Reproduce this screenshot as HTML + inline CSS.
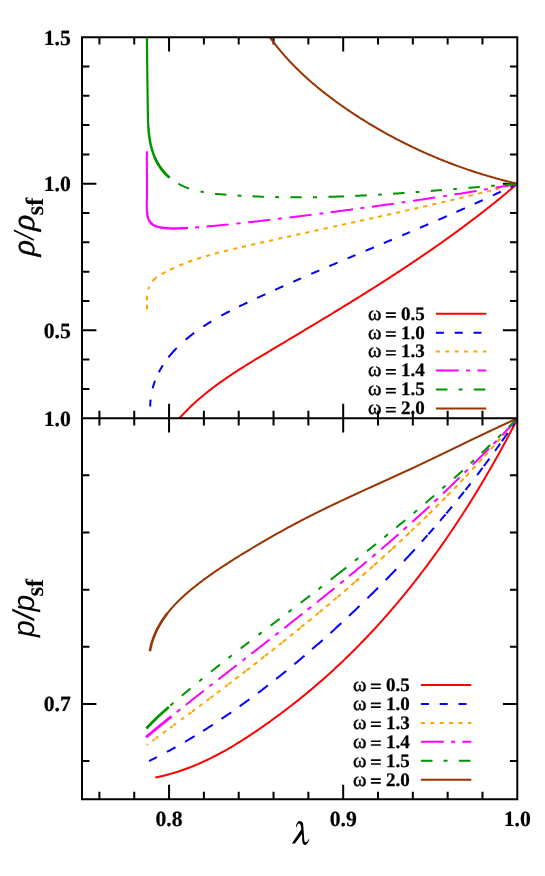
<!DOCTYPE html>
<html><head><meta charset="utf-8"><title>chart</title>
<style>
html,body{margin:0;padding:0;background:#fff;}
svg{display:block;will-change:transform;}
text{font-family:"Liberation Serif",serif;fill:#000;text-rendering:geometricPrecision;}
.tl{font-weight:bold;font-size:21.7px;stroke:#000;stroke-width:0.2px;}
.lb{font-weight:bold;font-size:19px;stroke:#000;stroke-width:0.25px;}
.lo{font-size:20.5px;stroke:#000;stroke-width:0.45px;}
.c path{fill:none;}
</style></head><body>
<svg width="545" height="876" viewBox="0 0 545 876">
<rect width="545" height="876" fill="#fff"/>
<defs>
<clipPath id="ct"><rect x="82" y="37.2" width="436.3" height="381"/></clipPath>
<clipPath id="cb"><rect x="82" y="418.2" width="436.3" height="381"/></clipPath>
</defs>
<path d="M99.41 37.2 v7.4 M99.41 410.8 v14.8 M99.41 799.2 v-7.4 M134.24 37.2 v7.4 M134.24 410.8 v14.8 M134.24 799.2 v-7.4 M169.06 37.2 v14.4 M169.06 403.8 v28.8 M169.06 799.2 v-14.4 M203.88 37.2 v7.4 M203.88 410.8 v14.8 M203.88 799.2 v-7.4 M238.71 37.2 v7.4 M238.71 410.8 v14.8 M238.71 799.2 v-7.4 M273.53 37.2 v7.4 M273.53 410.8 v14.8 M273.53 799.2 v-7.4 M308.36 37.2 v7.4 M308.36 410.8 v14.8 M308.36 799.2 v-7.4 M343.18 37.2 v14.4 M343.18 403.8 v28.8 M343.18 799.2 v-14.4 M378 37.2 v7.4 M378 410.8 v14.8 M378 799.2 v-7.4 M412.83 37.2 v7.4 M412.83 410.8 v14.8 M412.83 799.2 v-7.4 M447.65 37.2 v7.4 M447.65 410.8 v14.8 M447.65 799.2 v-7.4 M482.48 37.2 v7.4 M482.48 410.8 v14.8 M482.48 799.2 v-7.4 M82 388.89 h7.4 M517.3 388.89 h-7.4 M82 359.58 h7.4 M517.3 359.58 h-7.4 M82 330.28 h14.4 M517.3 330.28 h-14.4 M82 300.97 h7.4 M517.3 300.97 h-7.4 M82 271.66 h7.4 M517.3 271.66 h-7.4 M82 242.35 h7.4 M517.3 242.35 h-7.4 M82 213.05 h7.4 M517.3 213.05 h-7.4 M82 183.74 h14.4 M517.3 183.74 h-14.4 M82 154.43 h7.4 M517.3 154.43 h-7.4 M82 125.12 h7.4 M517.3 125.12 h-7.4 M82 95.82 h7.4 M517.3 95.82 h-7.4 M82 66.51 h7.4 M517.3 66.51 h-7.4 M82 475.35 h7.4 M517.3 475.35 h-7.4 M82 532.5 h7.4 M517.3 532.5 h-7.4 M82 589.65 h7.4 M517.3 589.65 h-7.4 M82 646.8 h7.4 M517.3 646.8 h-7.4 M82 703.95 h14.4 M517.3 703.95 h-14.4 M82 761.1 h7.4 M517.3 761.1 h-7.4" stroke="#000" stroke-width="2" fill="none"/>
<g class="c" clip-path="url(#ct)">
<path d="M172.5 426.5 L173.44 425.31 L174.4 424.14 L175.36 422.97 L176.33 421.81 L177.31 420.67 L178.29 419.53 L179.28 418.4 L180.28 417.28 L181.29 416.17 L182.31 415.07 L183.33 413.98 L184.36 412.9 L185.4 411.83 L186.44 410.76 L187.49 409.7 L188.55 408.66 L189.62 407.62 L190.69 406.58 L191.76 405.56 L192.85 404.54 L193.94 403.53 L195.04 402.53 L196.14 401.54 L197.25 400.55 L198.36 399.57 L199.48 398.6 L200.61 397.64 L201.74 396.68 L202.88 395.73 L204.02 394.78 L205.17 393.84 L206.32 392.91 L207.48 391.98 L208.64 391.07 L209.81 390.15 L210.99 389.24 L212.16 388.34 L213.35 387.45 L214.53 386.56 L215.72 385.67 L216.92 384.79 L218.12 383.91 L219.32 383.04 L220.53 382.18 L221.74 381.32 L222.96 380.46 L224.18 379.61 L225.4 378.77 L226.63 377.92 L227.86 377.09 L229.09 376.25 L230.33 375.42 L231.57 374.6 L232.81 373.77 L234.06 372.96 L235.31 372.14 L236.56 371.33 L237.81 370.52 L239.07 369.71 L240.33 368.91 L241.59 368.11 L242.85 367.31 L244.12 366.52 L245.38 365.73 L246.65 364.94 L247.92 364.15 L249.2 363.37 L250.47 362.58 L251.75 361.8 L253.03 361.02 L254.3 360.24 L255.58 359.47 L256.87 358.69 L258.15 357.92 L259.43 357.14 L260.71 356.37 L262 355.6 L263.28 354.83 L264.57 354.06 L265.86 353.29 L267.14 352.53 L268.43 351.76 L269.72 350.99 L271 350.22 L272.29 349.46 L273.58 348.69 L274.86 347.92 L276.15 347.15 L277.44 346.38 L278.72 345.62 L280.01 344.85 L281.3 344.08 L282.58 343.31 L283.87 342.55 L285.16 341.78 L286.44 341.01 L287.73 340.24 L289.02 339.48 L290.3 338.71 L291.59 337.94 L292.88 337.17 L294.16 336.4 L295.45 335.63 L296.73 334.87 L298.02 334.1 L299.3 333.33 L300.59 332.56 L301.87 331.79 L303.16 331.02 L304.44 330.25 L305.73 329.48 L307.01 328.71 L308.3 327.94 L309.58 327.17 L310.86 326.4 L312.15 325.62 L313.43 324.85 L314.71 324.08 L316 323.31 L317.28 322.54 L318.56 321.76 L319.84 320.99 L321.13 320.22 L322.41 319.44 L323.69 318.67 L324.97 317.89 L326.25 317.12 L327.53 316.34 L328.81 315.56 L330.09 314.79 L331.37 314.01 L332.65 313.23 L333.93 312.45 L335.2 311.67 L336.48 310.9 L337.76 310.12 L339.04 309.34 L340.31 308.55 L341.59 307.77 L342.87 306.99 L344.14 306.21 L345.42 305.43 L346.69 304.64 L347.96 303.86 L349.24 303.07 L350.51 302.29 L351.78 301.5 L353.06 300.71 L354.33 299.93 L355.6 299.14 L356.87 298.35 L358.14 297.56 L359.41 296.77 L360.68 295.98 L361.95 295.19 L363.22 294.39 L364.49 293.6 L365.75 292.81 L367.02 292.01 L368.29 291.22 L369.55 290.42 L370.82 289.62 L372.08 288.83 L373.34 288.03 L374.61 287.23 L375.87 286.43 L377.13 285.62 L378.39 284.82 L379.65 284.02 L380.91 283.21 L382.17 282.41 L383.43 281.6 L384.69 280.8 L385.95 279.99 L387.2 279.18 L388.46 278.37 L389.72 277.56 L390.97 276.75 L392.22 275.94 L393.48 275.12 L394.73 274.31 L395.98 273.49 L397.23 272.67 L398.48 271.86 L399.73 271.04 L400.98 270.22 L402.23 269.4 L403.48 268.57 L404.72 267.75 L405.97 266.93 L407.21 266.1 L408.46 265.27 L409.7 264.45 L410.94 263.62 L412.19 262.79 L413.43 261.95 L414.67 261.12 L415.9 260.29 L417.14 259.45 L418.38 258.62 L419.62 257.78 L420.85 256.94 L422.09 256.1 L423.32 255.26 L424.55 254.41 L425.79 253.57 L427.02 252.72 L428.25 251.88 L429.48 251.03 L430.7 250.18 L431.93 249.33 L433.16 248.48 L434.38 247.62 L435.61 246.77 L436.83 245.91 L438.05 245.05 L439.28 244.2 L440.5 243.33 L441.72 242.47 L442.93 241.61 L444.15 240.74 L445.37 239.88 L446.58 239.01 L447.8 238.14 L449.01 237.27 L450.22 236.4 L451.43 235.52 L452.64 234.65 L453.85 233.77 L455.06 232.89 L456.27 232.01 L457.47 231.13 L458.68 230.24 L459.88 229.36 L461.08 228.47 L462.28 227.58 L463.48 226.69 L464.68 225.8 L465.88 224.91 L467.08 224.01 L468.27 223.11 L469.46 222.21 L470.66 221.31 L471.85 220.41 L473.04 219.51 L474.23 218.6 L475.42 217.69 L476.6 216.79 L477.79 215.87 L478.97 214.96 L480.16 214.05 L481.34 213.13 L482.52 212.21 L483.7 211.29 L484.87 210.37 L486.05 209.45 L487.23 208.52 L488.4 207.59 L489.57 206.66 L490.74 205.73 L491.91 204.8 L493.08 203.86 L494.25 202.92 L495.42 201.99 L496.58 201.04 L497.74 200.1 L498.91 199.16 L500.07 198.21 L501.22 197.26 L502.38 196.31 L503.54 195.35 L504.69 194.4 L505.85 193.44 L507 192.48 L508.15 191.52 L509.3 190.56 L510.45 189.59 L511.59 188.62 L512.74 187.65 L513.88 186.68 L515.02 185.7 L516.16 184.73 L517.3 183.75" stroke="#ff0000" stroke-width="2"/>
<path d="M150.2 406.5 L150.24 404.87 L150.32 403.26 L150.42 401.66 L150.56 400.08 L150.6 399.7 M152.68 388.2 L152.74 387.95 L153.14 386.5 L153.57 385.07 L154.02 383.65 L154.5 382.24 L155 380.84 L155.02 380.8 M158.83 372.2 L159.21 371.46 L159.9 370.17 L160.61 368.9 L161.35 367.64 L162.1 366.39 L162.85 365.2 M168.5 357.28 L168.84 356.86 L169.76 355.72 L170.69 354.59 L171.65 353.48 L172.61 352.38 L173.6 351.29 L174.59 350.21 L175.6 349.14 L176.63 348.09 L176.8 347.92 M185.6 339.74 L186.38 339.08 L187.51 338.13 L188.66 337.19 L189.81 336.27 L190.97 335.35 L192.14 334.44 L193.32 333.54 L194.2 332.88 M203.4 326.42 L204.27 325.85 L205.52 325.04 L206.78 324.23 L208.05 323.44 L209.32 322.64 L210.59 321.86 L211.3 321.43 M221.4 315.62 L222.33 315.11 L223.66 314.39 L224.99 313.67 L226.33 312.96 L227.67 312.26 L229.01 311.56 L229.8 311.15 M239.1 306.49 L239.86 306.12 L241.23 305.45 L242.6 304.79 L243.97 304.13 L245.35 303.48 L246.72 302.83 L247.4 302.51 M257.1 298 L257.75 297.7 L259.13 297.06 L260.51 296.43 L261.89 295.8 L263.27 295.17 L264.65 294.54 L265.4 294.2 M275.1 289.81 L275.68 289.55 L277.06 288.93 L278.44 288.31 L279.82 287.7 L281.2 287.08 L282.58 286.47 L283.3 286.15 M293.3 281.73 L293.61 281.59 L294.99 280.99 L296.37 280.38 L297.75 279.78 L299.13 279.17 L300.5 278.57 L301.1 278.31 M311.3 273.89 L311.53 273.79 L312.91 273.19 L314.29 272.6 L315.66 272 L317.04 271.41 L318.42 270.82 L319.3 270.44 M329.3 266.16 L329.44 266.1 L330.82 265.52 L332.19 264.93 L333.57 264.34 L334.95 263.76 L336.32 263.17 L337.5 262.67 M347.6 258.4 L348.71 257.93 L350.09 257.34 L351.46 256.76 L352.84 256.18 L354.22 255.6 L355.5 255.06 M365.6 250.8 L366.6 250.38 L367.97 249.8 L369.35 249.22 L370.72 248.65 L372.1 248.07 L373.47 247.49 L373.9 247.31 M383.8 243.14 L384.47 242.86 L385.84 242.28 L387.21 241.7 L388.59 241.12 L389.96 240.54 L391.34 239.96 L391.8 239.76 M402.2 235.36 L402.32 235.31 L403.7 234.73 L405.07 234.14 L406.44 233.56 L407.81 232.98 L409.19 232.39 L410 232.05 M420.1 227.74 L420.17 227.71 L421.54 227.12 L422.91 226.53 L424.28 225.94 L425.65 225.35 L427.02 224.76 L428.2 224.26 M438.3 219.89 L439.36 219.42 L440.73 218.83 L442.1 218.23 L443.47 217.63 L444.84 217.03 L446.21 216.43 L446.9 216.13 M456.4 211.94 L457.17 211.6 L458.54 210.99 L459.91 210.39 L461.28 209.78 L462.64 209.17 L464.01 208.55 L464.9 208.16 M474.7 203.74 L474.96 203.62 L476.33 203 L477.69 202.38 L479.06 201.75 L480.43 201.13 L481.8 200.5 L482.7 200.09 M492.9 195.37 L494.09 194.81 L495.46 194.17 L496.83 193.53 L498.19 192.89 L499.56 192.25 L500.8 191.66 M510.5 187.04 L511.84 186.39 L513.21 185.73 L514.57 185.07 L515.94 184.41 L517.3 183.75" stroke="#0000ff" stroke-width="2"/>
<path d="M147.1 309.4 L147.07 308.11 L147.03 306.67 L147 305.19 L146.99 304.7 M146.99 300.3 L147.02 299 L147.1 297.42 L147.22 295.84 L147.22 295.8 M148.28 289.5 L148.64 288.27 L149.13 286.87 L149.2 286.7 M152.4 281.25 L152.83 280.72 L153.81 279.68 L154.86 278.7 L155.98 277.78 L157 277.02 M161.5 274.17 L162.22 273.77 L163.55 273.04 L164.88 272.34 L165.6 271.96 M170 269.75 L170.24 269.63 L171.6 268.99 L172.95 268.35 L174.1 267.83 M179.3 265.55 L179.8 265.34 L181.18 264.77 L182.56 264.21 L183.4 263.88 M188.2 262.05 L189.54 261.56 L190.94 261.05 L192.3 260.57 M197 258.98 L198.01 258.65 L199.43 258.19 L200.86 257.74 L201.1 257.67 M206 256.18 L206.58 256.01 L208.02 255.59 L209.45 255.18 L210.1 255 M214.8 253.7 L215.23 253.59 L216.67 253.2 L218.12 252.82 L218.9 252.62 M223.9 251.35 L223.93 251.34 L225.39 250.98 L226.85 250.62 L228 250.34 M233.3 249.07 L234.14 248.87 L235.6 248.53 L237.07 248.19 L237.4 248.11 M241.9 247.07 L242.92 246.83 L244.38 246.5 L245.84 246.16 L246 246.13 M251.1 244.96 L251.69 244.82 L253.16 244.49 L254.62 244.16 L255.2 244.03 M260.2 242.89 L260.47 242.83 L261.94 242.5 L263.4 242.17 L264.3 241.97 M269 240.91 L269.25 240.85 L270.72 240.52 L272.18 240.2 L273.1 239.99 M278.2 238.85 L279.49 238.56 L280.96 238.24 L282.3 237.94 M287 236.89 L288.27 236.61 L289.74 236.28 L291.1 235.98 M296.2 234.85 L297.05 234.67 L298.51 234.34 L299.98 234.02 L300.3 233.95 M305.2 232.87 L305.83 232.73 L307.29 232.41 L308.75 232.09 L309.3 231.97 M314.4 230.85 L314.61 230.8 L316.07 230.48 L317.53 230.16 L318.5 229.95 M323.6 228.83 L324.84 228.56 L326.31 228.23 L327.7 227.93 M333.2 226.72 L333.62 226.63 L335.08 226.31 L336.54 225.99 L337.3 225.83 M342 224.8 L342.39 224.71 L343.86 224.39 L345.32 224.07 L346.1 223.9 M351.2 222.78 L352.63 222.47 L354.09 222.15 L355.3 221.88 M360 220.85 L361.4 220.54 L362.86 220.22 L364.1 219.94 M369.2 218.82 L370.16 218.61 L371.63 218.28 L373.09 217.96 L373.3 217.92 M377.8 216.92 L378.93 216.67 L380.39 216.35 L381.85 216.02 L381.9 216.01 M387 214.88 L387.69 214.72 L389.15 214.4 L390.61 214.07 L391.1 213.96 M396.1 212.85 L396.46 212.77 L397.92 212.44 L399.38 212.11 L400.2 211.93 M405.3 210.78 L406.67 210.47 L408.13 210.14 L409.4 209.85 M414.2 208.76 L415.43 208.48 L416.89 208.15 L418.3 207.83 M423.1 206.73 L424.18 206.48 L425.64 206.15 L427.1 205.81 L427.2 205.79 M432.2 204.64 L432.93 204.47 L434.39 204.13 L435.85 203.79 L436.3 203.69 M441.3 202.52 L441.68 202.43 L443.13 202.09 L444.59 201.75 L445.4 201.56 M450.4 200.38 L450.42 200.38 L451.87 200.03 L453.33 199.69 L454.5 199.41 M459.4 198.24 L460.61 197.95 L462.07 197.6 L463.5 197.26 M468.7 196 L469.34 195.84 L470.8 195.49 L472.26 195.13 L472.8 195 M478 193.73 L478.07 193.71 L479.53 193.35 L480.98 192.99 L482.1 192.72 M486.8 191.55 L488.25 191.19 L489.71 190.82 L490.9 190.53 M495.8 189.29 L496.97 188.99 L498.43 188.63 L499.88 188.26 L499.9 188.25 M505 186.95 L505.69 186.77 L507.14 186.39 L508.59 186.02 L509.1 185.89 M513.2 184.82 L514.4 184.51 L515.85 184.13 L517.3 183.75" stroke="#ffa500" stroke-width="2"/>
<path d="M146.9 151.3 L146.87 152.8 L146.85 154.3 L146.84 155.8 L146.83 157.3 L146.82 158.8 L146.82 160.3 L146.82 161.8 L146.82 163.3 L146.83 164.79 L146.84 166.29 L146.85 167.79 L146.86 169.28 L146.88 170.78 L146.89 172.27 L146.91 173.77 L146.92 175.26 L146.94 176.76 L146.96 178.25 L146.97 179.75 L146.98 181.24 L146.99 182.74 L147 184.23 L147.01 185.73 L147.01 187.22 L147.01 188.72 L147 190.22 L146.99 191.71 L146.98 193.21 L146.96 194.71 L146.94 196.21 L146.91 197.71 L146.87 199.21 L146.84 200.71 L146.81 202.21 L146.78 203.71 L146.77 205.22 L146.79 206.72 L146.83 208.23 L146.9 209.74 L147 211.24 L147.16 212.75 L147.19 213" stroke="#ff00ff" stroke-width="2.1"/>
<path d="M147.13 212.5 L147.16 212.75 L147.35 214.26 L147.61 215.77 L147.95 217.25 L148.39 218.69 L148.95 220.05 L149.65 221.32 L150.5 222.48 L151.47 223.53 L152.57 224.46 L153.79 225.25 L155.1 225.89 L156.5 226.41 L157.15 226.6" stroke="#ff00ff" stroke-width="2.4"/>
<path d="M157.1 226.59 L157.95 226.83 L159.44 227.17 L160.95 227.45 L162.45 227.7 L163.95 227.9 L165.46 228.07 L166.96 228.2 L168.46 228.3 L169.96 228.38 L171.46 228.43 L172.95 228.45 L174.45 228.46 L175.95 228.44 L177.44 228.41 L178.94 228.36 L180.44 228.3 L181.93 228.23 L183.43 228.16 L184.92 228.08 L186.42 227.99 L187.9 227.91" stroke="#ff00ff" stroke-width="2.4"/>
<path d="M195.1 227.43 L195.38 227.41 L196.87 227.31 L198.36 227.2 L199.2 227.13 M206.7 226.53 L207.32 226.47 L208.81 226.34 L210.3 226.21 L211.79 226.08 L213.28 225.94 L214.77 225.8 L216.26 225.66 L217.75 225.52 L219.24 225.38 L220.73 225.23 L222.22 225.08 L223.71 224.93 L225.2 224.78 L226.69 224.63 L228.18 224.48 L228.6 224.43 M236.4 223.61 L237.12 223.53 L238.61 223.37 L240.1 223.21 L240.6 223.15 M248.1 222.33 L249.03 222.23 L250.52 222.06 L252 221.89 L253.49 221.72 L254.98 221.56 L256.47 221.39 L257.96 221.22 L259.44 221.05 L260.93 220.88 L262.42 220.71 L263.91 220.53 L265.4 220.36 L266.88 220.19 L268.37 220.02 L269.86 219.84 L270.2 219.8 M277.8 218.9 L278.78 218.78 L280.27 218.6 L281.75 218.43 L281.9 218.41 M289.5 217.49 L290.67 217.34 L292.16 217.16 L293.65 216.98 L295.13 216.79 L296.62 216.61 L298.11 216.42 L299.59 216.24 L301.08 216.05 L302.56 215.87 L304.05 215.68 L305.54 215.49 L307.02 215.31 L308.51 215.12 L309.99 214.93 L311.48 214.74 L311.5 214.74 M319.5 213.71 L320.39 213.6 L321.88 213.41 L323.3 213.22 M330.6 212.27 L330.79 212.25 L332.27 212.05 L333.76 211.86 L335.24 211.66 L336.73 211.47 L338.21 211.27 L339.7 211.07 L341.18 210.88 L342.67 210.68 L344.15 210.48 L345.63 210.28 L347.12 210.09 L348.6 209.89 L350.09 209.69 L351.57 209.49 L353 209.3 M360.4 208.3 L360.48 208.29 L361.96 208.08 L363.45 207.88 L364.4 207.75 M371.9 206.72 L372.35 206.66 L373.83 206.45 L375.31 206.25 L376.8 206.04 L378.28 205.83 L379.76 205.63 L381.25 205.42 L382.73 205.21 L384.21 205 L385.7 204.79 L387.18 204.58 L388.66 204.37 L390.15 204.16 L391.63 203.95 L393.11 203.74 L393.9 203.63 M401.7 202.5 L402 202.46 L403.49 202.25 L404.97 202.03 L405.3 201.98 M413 200.85 L413.86 200.72 L415.34 200.51 L416.82 200.29 L418.3 200.06 L419.78 199.84 L421.27 199.62 L422.75 199.4 L424.23 199.18 L425.71 198.95 L427.19 198.73 L428.67 198.5 L430.15 198.28 L431.63 198.05 L433.11 197.83 L434.59 197.6 L435.2 197.51 M443.3 196.25 L443.47 196.22 L444.95 195.99 L446.43 195.76 L446.9 195.69 M454.4 194.5 L455.3 194.35 L456.78 194.11 L458.26 193.88 L459.74 193.64 L461.22 193.4 L462.7 193.16 L464.17 192.92 L465.65 192.68 L467.13 192.44 L468.61 192.19 L470.08 191.95 L471.56 191.71 L473.04 191.46 L474.52 191.22 L475.99 190.97 L476.6 190.87 M484 189.62 L484.85 189.47 L486.33 189.22 L487.8 188.97 M495.5 187.64 L496.66 187.44 L498.14 187.18 L499.61 186.92 L501.09 186.66 L502.56 186.4 L504.03 186.14 L505.51 185.88 L506.98 185.62 L508.46 185.35 L509.93 185.09 L511.41 184.82 L512.88 184.55 L514.35 184.29 L515.83 184.02 L517.3 183.75" stroke="#ff00ff" stroke-width="2"/>
<path d="M146.9 30 L146.91 31.53 L146.91 33.06 L146.92 34.58 L146.93 36.1 L146.94 37.61 L146.95 39.13 L146.96 40.63 L146.97 42.14 L146.98 43.64 L147 45.14 L147.01 46.63 L147.02 48.13 L147.04 49.62 L147.05 51.11 L147.06 52.59 L147.08 54.08 L147.09 55.56 L147.11 57.04 L147.13 58.52 L147.14 59.99 L147.16 61.47 L147.18 62.95 L147.19 64.42 L147.21 65.9 L147.23 67.37 L147.25 68.84 L147.27 70.31 L147.28 71.79 L147.3 73.26 L147.32 74.73 L147.34 76.2 L147.36 77.68 L147.38 79.15 L147.4 80.63 L147.42 82.1 L147.44 83.58 L147.46 85.06 L147.48 86.54 L147.5 88.02 L147.52 89.51 L147.54 90.99 L147.56 92.48 L147.58 93.97 L147.6 95.46 L147.62 96.96 L147.64 98.46 L147.66 99.96 L147.68 101.46 L147.7 102.97 L147.72 104.48 L147.74 105.99 L147.76 107.51 L147.78 109.04 L147.8 110.56 L147.82 112.09 L147.84 113.62 L147.87 115.15 L147.91 116.69 L147.95 118.22 L147.99 119.76 L148.05 121.29 L148.11 122.83 L148.19 124.36 L148.27 125.9 L148.37 127.43 L148.41 128" stroke="#009400" stroke-width="2.2"/>
<path d="M148.38 127.5 L148.48 128.96 L148.61 130.48 L148.75 132 L148.91 133.52 L149.08 135.03 L149.28 136.54 L149.49 138.04 L149.73 139.54 L149.98 141.03 L150.26 142.51 L150.57 143.98 L150.89 145.45 L151.25 146.91 L151.63 148.36 L152.04 149.8 L152.48 151.23 L152.95 152.65 L153.45 154.05 L153.98 155.44 L154.54 156.82 L155.04 158" stroke="#009400" stroke-width="2.5"/>
<path d="M154.83 157.5 L155.12 158.18 L155.74 159.53 L156.4 160.86 L157.08 162.17 L157.79 163.46 L158.54 164.72 L159.32 165.97 L160.13 167.19 L160.97 168.39 L161.85 169.56 L162.76 170.7 L163.7 171.82 L164.67 172.91 L165.68 173.98 L166.71 175.01 L167.77 176.02 L168.85 176.99 L169.68 177.7" stroke="#009400" stroke-width="2.9"/>
<path d="M178.4 183.74 L179.62 184.41 L180.9 185.07 L182.21 185.7 L183.52 186.31 L184.85 186.88 L186.2 187.42 L187.55 187.94 L188.92 188.43 L189.2 188.53 M200.5 191.55 L201.72 191.8 L203.19 192.07 L203.8 192.18 M215 193.72 L215.13 193.74 L216.65 193.89 L218.16 194.04 L219.68 194.18 L221.19 194.31 L222.71 194.44 L224.23 194.57 L225.75 194.68 L226.4 194.73 M237.5 195.51 L237.89 195.53 L239.4 195.63 L240.92 195.72 L241.5 195.75 M252.5 196.32 L253.01 196.34 L254.52 196.41 L256.03 196.48 L257.54 196.54 L259.05 196.6 L260.56 196.65 L262.07 196.71 L263.57 196.76 L263.9 196.77 M275.2 197.08 L275.61 197.08 L277.12 197.11 L278.62 197.14 L279 197.15 M290.4 197.28 L290.63 197.28 L292.13 197.29 L293.63 197.3 L295.13 197.3 L296.63 197.3 L298.12 197.3 L299.62 197.3 L301.12 197.3 L301.7 197.29 M313 197.19 L313.09 197.19 L314.58 197.16 L316.08 197.14 L317 197.12 M328.5 196.87 L329.52 196.84 L331.01 196.8 L332.5 196.75 L333.99 196.71 L335.48 196.66 L336.97 196.61 L338.47 196.56 L339.96 196.51 L341.45 196.45 L342.94 196.4 L344 196.36 M355.2 195.89 L356.34 195.83 L357.83 195.76 L359.32 195.69 L360.81 195.62 L362.3 195.55 L363.79 195.47 L365.27 195.39 L366.76 195.32 L366.8 195.31 M378.2 194.67 L378.66 194.65 L380.15 194.56 L381.64 194.47 L381.7 194.46 M393.1 193.74 L393.53 193.71 L395.02 193.61 L396.5 193.51 L397.99 193.41 L399.48 193.3 L400.96 193.2 L402.45 193.1 L403.94 192.99 L404.5 192.95 M415.7 192.13 L415.83 192.12 L417.32 192.01 L418.8 191.9 L419.4 191.85 M430.8 190.96 L432.19 190.85 L433.68 190.73 L435.17 190.61 L436.65 190.49 L438.14 190.37 L439.63 190.25 L441.12 190.13 L441.9 190.07 M453.4 189.12 L454.52 189.02 L456.01 188.9 L456.8 188.83 M468.4 187.85 L469.43 187.76 L470.92 187.64 L472.41 187.51 L473.9 187.38 L475.4 187.26 L476.89 187.13 L478.38 187 L479.8 186.88 M491.1 185.92 L491.83 185.86 L493.33 185.74 L494.82 185.61 L494.9 185.6 M506.3 184.65 L506.8 184.61 L508.3 184.49 L509.8 184.36 L511.3 184.24 L512.8 184.12 L514.3 183.99 L515.8 183.87 L517.3 183.75" stroke="#009400" stroke-width="2"/>
<path d="M265.5 31 L266.34 32.25 L267.19 33.49 L268.04 34.72 L268.91 35.95 L269.78 37.17 L270.66 38.38 L271.54 39.59 L272.43 40.79 L273.34 41.98 L274.24 43.17 L275.16 44.35 L276.08 45.52 L277.01 46.69 L277.95 47.85 L278.89 49.01 L279.84 50.16 L280.8 51.3 L281.76 52.44 L282.73 53.57 L283.71 54.69 L284.69 55.81 L285.68 56.92 L286.68 58.03 L287.68 59.13 L288.69 60.22 L289.71 61.31 L290.73 62.4 L291.76 63.47 L292.79 64.55 L293.83 65.61 L294.87 66.67 L295.93 67.73 L296.98 68.78 L298.04 69.82 L299.11 70.86 L300.18 71.89 L301.26 72.92 L302.35 73.94 L303.44 74.96 L304.53 75.97 L305.63 76.98 L306.73 77.98 L307.84 78.98 L308.96 79.97 L310.08 80.95 L311.2 81.93 L312.33 82.91 L313.46 83.88 L314.6 84.85 L315.74 85.81 L316.89 86.76 L318.04 87.72 L319.2 88.66 L320.36 89.6 L321.52 90.54 L322.69 91.47 L323.86 92.4 L325.04 93.33 L326.22 94.25 L327.4 95.16 L328.59 96.07 L329.78 96.98 L330.97 97.88 L332.17 98.78 L333.37 99.67 L334.58 100.56 L335.79 101.44 L337 102.32 L338.21 103.2 L339.43 104.07 L340.65 104.94 L341.88 105.8 L343.1 106.66 L344.33 107.52 L345.57 108.37 L346.8 109.22 L348.04 110.06 L349.28 110.91 L350.52 111.74 L351.77 112.58 L353.02 113.4 L354.27 114.23 L355.52 115.05 L356.78 115.87 L358.04 116.68 L359.3 117.49 L360.56 118.3 L361.83 119.1 L363.1 119.9 L364.37 120.69 L365.64 121.48 L366.92 122.27 L368.2 123.05 L369.48 123.83 L370.76 124.6 L372.05 125.38 L373.33 126.14 L374.63 126.91 L375.92 127.66 L377.21 128.42 L378.51 129.17 L379.81 129.92 L381.11 130.66 L382.42 131.4 L383.73 132.13 L385.03 132.87 L386.35 133.59 L387.66 134.32 L388.97 135.04 L390.29 135.75 L391.61 136.46 L392.93 137.17 L394.26 137.87 L395.59 138.57 L396.91 139.27 L398.24 139.96 L399.58 140.65 L400.91 141.33 L402.25 142.01 L403.59 142.69 L404.93 143.36 L406.27 144.02 L407.62 144.69 L408.96 145.35 L410.31 146 L411.66 146.65 L413.01 147.3 L414.37 147.94 L415.72 148.58 L417.08 149.22 L418.44 149.85 L419.8 150.48 L421.17 151.1 L422.53 151.72 L423.9 152.33 L425.27 152.94 L426.64 153.55 L428.01 154.15 L429.39 154.75 L430.76 155.35 L432.14 155.94 L433.52 156.52 L434.9 157.11 L436.28 157.68 L437.67 158.26 L439.05 158.83 L440.44 159.39 L441.83 159.96 L443.22 160.51 L444.61 161.07 L446.01 161.62 L447.4 162.16 L448.8 162.7 L450.2 163.24 L451.6 163.77 L453 164.3 L454.4 164.83 L455.8 165.35 L457.21 165.86 L458.62 166.37 L460.02 166.88 L461.43 167.39 L462.84 167.89 L464.26 168.38 L465.67 168.87 L467.08 169.36 L468.5 169.84 L469.92 170.32 L471.34 170.8 L472.76 171.27 L474.18 171.73 L475.6 172.19 L477.02 172.65 L478.45 173.11 L479.87 173.56 L481.3 174 L482.73 174.44 L484.16 174.88 L485.59 175.31 L487.02 175.74 L488.45 176.16 L489.88 176.58 L491.32 177 L492.75 177.41 L494.19 177.82 L495.63 178.22 L497.07 178.62 L498.51 179.01 L499.95 179.4 L501.39 179.79 L502.83 180.17 L504.27 180.55 L505.72 180.92 L507.16 181.29 L508.61 181.65 L510.06 182.01 L511.5 182.37 L512.95 182.72 L514.4 183.07 L515.85 183.41 L517.3 183.75" stroke="#993300" stroke-width="2"/>
</g>
<g class="c" clip-path="url(#cb)">
<path d="M155.3 777.5 L156.78 777.21 L158.26 776.9 L159.73 776.58 L161.2 776.25 L162.67 775.91 L164.13 775.56 L165.59 775.2 L167.04 774.83 L168.49 774.44 L169.93 774.05 L171.37 773.64 L172.81 773.23 L174.24 772.8 L175.67 772.36 L177.09 771.92 L178.51 771.46 L179.93 770.99 L181.34 770.51 L182.75 770.03 L184.16 769.53 L185.56 769.03 L186.96 768.51 L188.35 767.99 L189.74 767.45 L191.13 766.91 L192.51 766.36 L193.89 765.8 L195.27 765.23 L196.64 764.66 L198.01 764.07 L199.37 763.48 L200.74 762.88 L202.09 762.27 L203.45 761.65 L204.8 761.02 L206.15 760.39 L207.5 759.75 L208.84 759.1 L210.18 758.44 L211.52 757.78 L212.85 757.11 L214.18 756.43 L215.51 755.75 L216.83 755.06 L218.15 754.36 L219.47 753.66 L220.78 752.95 L222.09 752.23 L223.4 751.51 L224.71 750.78 L226.01 750.04 L227.31 749.3 L228.61 748.55 L229.91 747.8 L231.2 747.04 L232.49 746.28 L233.78 745.51 L235.06 744.74 L236.34 743.96 L237.62 743.18 L238.9 742.39 L240.17 741.59 L241.44 740.8 L242.71 739.99 L243.98 739.19 L245.24 738.38 L246.51 737.56 L247.77 736.74 L249.02 735.92 L250.28 735.09 L251.53 734.26 L252.78 733.43 L254.03 732.59 L255.28 731.75 L256.52 730.91 L257.77 730.06 L259.01 729.21 L260.24 728.36 L261.48 727.5 L262.72 726.64 L263.95 725.78 L265.18 724.92 L266.41 724.05 L267.63 723.18 L268.86 722.31 L270.08 721.44 L271.3 720.56 L272.52 719.68 L273.73 718.8 L274.95 717.91 L276.16 717.02 L277.37 716.13 L278.58 715.24 L279.79 714.34 L280.99 713.45 L282.19 712.54 L283.39 711.64 L284.59 710.74 L285.78 709.83 L286.98 708.91 L288.17 708 L289.36 707.08 L290.55 706.17 L291.73 705.24 L292.91 704.32 L294.1 703.39 L295.27 702.46 L296.45 701.53 L297.63 700.6 L298.8 699.66 L299.97 698.72 L301.14 697.78 L302.3 696.83 L303.47 695.88 L304.63 694.93 L305.79 693.98 L306.95 693.03 L308.1 692.07 L309.25 691.11 L310.4 690.15 L311.55 689.18 L312.7 688.22 L313.84 687.25 L314.99 686.27 L316.13 685.3 L317.26 684.32 L318.4 683.34 L319.53 682.36 L320.66 681.38 L321.79 680.39 L322.92 679.4 L324.04 678.41 L325.16 677.41 L326.28 676.42 L327.4 675.42 L328.52 674.42 L329.63 673.41 L330.74 672.41 L331.85 671.4 L332.96 670.39 L334.06 669.37 L335.16 668.36 L336.26 667.34 L337.36 666.32 L338.45 665.29 L339.54 664.27 L340.63 663.24 L341.72 662.21 L342.81 661.18 L343.89 660.14 L344.97 659.11 L346.05 658.07 L347.12 657.03 L348.2 655.98 L349.27 654.94 L350.34 653.89 L351.41 652.84 L352.47 651.78 L353.53 650.73 L354.59 649.67 L355.65 648.61 L356.7 647.55 L357.76 646.49 L358.81 645.42 L359.85 644.35 L360.9 643.28 L361.94 642.21 L362.99 641.13 L364.02 640.05 L365.06 638.98 L366.1 637.89 L367.13 636.81 L368.16 635.72 L369.18 634.64 L370.21 633.55 L371.23 632.45 L372.25 631.36 L373.27 630.26 L374.29 629.16 L375.3 628.06 L376.31 626.96 L377.32 625.86 L378.33 624.75 L379.34 623.64 L380.34 622.53 L381.34 621.42 L382.34 620.3 L383.33 619.18 L384.33 618.06 L385.32 616.94 L386.31 615.82 L387.3 614.7 L388.28 613.57 L389.26 612.44 L390.25 611.31 L391.22 610.18 L392.2 609.04 L393.17 607.9 L394.15 606.77 L395.12 605.63 L396.08 604.48 L397.05 603.34 L398.01 602.19 L398.97 601.05 L399.93 599.9 L400.89 598.74 L401.84 597.59 L402.8 596.43 L403.75 595.28 L404.7 594.12 L405.64 592.96 L406.59 591.79 L407.53 590.63 L408.47 589.46 L409.41 588.3 L410.34 587.13 L411.27 585.95 L412.21 584.78 L413.13 583.61 L414.06 582.43 L414.99 581.25 L415.91 580.07 L416.83 578.89 L417.75 577.71 L418.67 576.52 L419.58 575.33 L420.49 574.14 L421.4 572.95 L422.31 571.76 L423.22 570.57 L424.12 569.37 L425.02 568.18 L425.92 566.98 L426.82 565.78 L427.72 564.57 L428.61 563.37 L429.5 562.17 L430.39 560.96 L431.28 559.75 L432.17 558.54 L433.05 557.33 L433.93 556.12 L434.81 554.9 L435.69 553.69 L436.56 552.47 L437.44 551.25 L438.31 550.03 L439.18 548.81 L440.05 547.59 L440.91 546.36 L441.77 545.13 L442.64 543.91 L443.5 542.68 L444.35 541.45 L445.21 540.21 L446.06 538.98 L446.91 537.75 L447.76 536.51 L448.61 535.27 L449.46 534.03 L450.3 532.79 L451.14 531.55 L451.98 530.31 L452.82 529.06 L453.66 527.82 L454.49 526.57 L455.32 525.32 L456.15 524.07 L456.98 522.82 L457.81 521.57 L458.63 520.31 L459.45 519.06 L460.27 517.8 L461.09 516.54 L461.91 515.28 L462.73 514.02 L463.54 512.76 L464.35 511.5 L465.16 510.23 L465.97 508.97 L466.77 507.7 L467.57 506.43 L468.38 505.17 L469.18 503.89 L469.97 502.62 L470.77 501.35 L471.56 500.08 L472.36 498.8 L473.15 497.53 L473.93 496.25 L474.72 494.97 L475.51 493.69 L476.29 492.41 L477.07 491.13 L477.85 489.85 L478.63 488.56 L479.4 487.28 L480.18 485.99 L480.95 484.71 L481.72 483.42 L482.49 482.13 L483.25 480.84 L484.02 479.55 L484.78 478.26 L485.54 476.96 L486.3 475.67 L487.06 474.37 L487.81 473.08 L488.57 471.78 L489.32 470.48 L490.07 469.18 L490.82 467.88 L491.57 466.58 L492.31 465.28 L493.05 463.98 L493.8 462.68 L494.54 461.37 L495.27 460.07 L496.01 458.76 L496.74 457.45 L497.48 456.14 L498.21 454.84 L498.94 453.53 L499.67 452.21 L500.39 450.9 L501.11 449.59 L501.84 448.28 L502.56 446.96 L503.28 445.65 L503.99 444.33 L504.71 443.02 L505.42 441.7 L506.14 440.38 L506.85 439.06 L507.55 437.74 L508.26 436.42 L508.97 435.1 L509.67 433.78 L510.37 432.46 L511.07 431.14 L511.77 429.81 L512.47 428.49 L513.16 427.16 L513.86 425.84 L514.55 424.51 L515.24 423.18 L515.93 421.86 L516.61 420.53 L517.3 419.2" stroke="#ff0000" stroke-width="2"/>
<path d="M149.1 761 L150.45 760.35 L151.79 759.69 L153.13 759.02 L154.47 758.36 L155.81 757.69 L156.9 757.14 M166.9 751.94 L167.75 751.48 L169.07 750.77 L170.39 750.06 L171.7 749.34 L173.01 748.63 L174.32 747.9 L175.5 747.25 M185.1 741.79 L186.02 741.25 L187.31 740.5 L188.59 739.74 L189.88 738.98 L191.16 738.21 L192.45 737.44 L193.73 736.67 L194.6 736.14 M203.1 730.9 L203.91 730.39 L205.17 729.6 L206.44 728.79 L207.7 727.99 L208.96 727.18 L210.22 726.37 L211.47 725.56 L212.73 724.75 L212.85 724.67 M221.5 718.94 L222.7 718.13 L223.94 717.29 L225.18 716.45 L226.42 715.61 L227.65 714.76 L228.89 713.91 L230.12 713.06 L231.2 712.31 M239.7 706.33 L239.92 706.17 L241.14 705.3 L242.36 704.43 L243.57 703.55 L244.79 702.67 L246 701.79 L247.21 700.91 L248.42 700.03 L249.4 699.31 M258 692.92 L258.05 692.89 L259.25 691.98 L260.44 691.08 L261.64 690.18 L262.83 689.27 L264.02 688.36 L265.21 687.45 L266.4 686.53 L267.59 685.62 L267.9 685.38 M276.1 678.98 L277.05 678.23 L278.22 677.3 L279.4 676.37 L280.57 675.43 L281.74 674.5 L282.91 673.56 L284.08 672.62 L285.25 671.68 L286.2 670.91 M294.3 664.28 L294.54 664.08 L295.7 663.12 L296.85 662.16 L298 661.2 L299.15 660.24 L300.31 659.27 L301.45 658.31 L302.6 657.34 L303.75 656.37 L304.5 655.74 M312.2 649.14 L312.87 648.56 L314.01 647.58 L315.14 646.6 L316.27 645.61 L317.4 644.62 L318.53 643.63 L319.66 642.64 L320.79 641.65 L321.91 640.66 L322.7 639.96 M330.4 633.08 L330.87 632.66 L331.98 631.65 L333.1 630.64 L334.21 629.63 L335.32 628.62 L336.43 627.61 L337.53 626.6 L338.64 625.58 L339.75 624.56 L340.85 623.55 L341.3 623.13 M349 615.95 L349.63 615.36 L350.73 614.33 L351.82 613.3 L352.91 612.27 L354 611.23 L355.08 610.2 L356.17 609.17 L357.25 608.13 L358.34 607.09 L359.42 606.05 L359.5 605.97 M367.4 598.32 L368.03 597.7 L369.11 596.65 L370.18 595.6 L371.24 594.54 L372.31 593.49 L373.38 592.43 L374.44 591.38 L375.5 590.32 L376.57 589.26 L377.63 588.2 L378 587.83 M385.7 580.06 L386.07 579.68 L387.12 578.61 L388.16 577.54 L389.21 576.47 L390.25 575.39 L391.3 574.32 L392.34 573.24 L393.38 572.17 L394.42 571.09 L395.46 570.01 L396.2 569.23 M404 561.01 L404.74 560.23 L405.76 559.13 L406.79 558.04 L407.81 556.95 L408.83 555.85 L409.84 554.75 L410.86 553.65 L411.88 552.55 L412.89 551.45 L413.9 550.35 L414.8 549.37 M421.9 541.54 L421.95 541.48 L422.95 540.37 L423.95 539.25 L424.95 538.14 L425.94 537.02 L426.94 535.9 L427.5 535.26 M428.3 534.36 L428.92 533.66 L429.91 532.53 L430.9 531.41 L431.88 530.28 L432.87 529.16 L433.85 528.03 L433.9 527.97 M440.1 520.79 L440.69 520.1 L441.66 518.96 L442.63 517.82 L443.6 516.68 L444.57 515.53 L445.5 514.43 M446.3 513.48 L446.49 513.25 L447.45 512.1 L448.41 510.95 L449.37 509.8 L450.33 508.65 L451.29 507.5 L452 506.64 M458.4 498.82 L458.87 498.24 L459.81 497.08 L460.75 495.92 L461.69 494.75 L462.62 493.58 L463.56 492.42 L464 491.86 M465.5 489.98 L466.35 488.9 L467.28 487.73 L468.2 486.55 L469.13 485.38 L470.05 484.2 L470.6 483.5 M477.1 475.09 L477.37 474.73 L478.28 473.54 L479.19 472.35 L480.09 471.16 L480.99 469.96 L481.89 468.77 L482.6 467.83 M483.9 466.09 L484.58 465.18 L485.48 463.98 L486.37 462.77 L487.26 461.57 L488.15 460.37 L489.04 459.16 L489.4 458.66 M495.1 450.81 L495.2 450.68 L496.07 449.46 L496.94 448.25 L497.81 447.03 L498.68 445.81 L499.54 444.58 L500.2 443.65 M501.9 441.23 L502.13 440.91 L502.99 439.68 L503.84 438.45 L504.7 437.22 L505.55 435.99 L506.4 434.76 L507.25 433.52 L507.7 432.87 M512 426.55 L512.31 426.09 L513.15 424.84 L513.98 423.6 L514.81 422.35 L515.64 421.1 L516.47 419.85 L517.3 418.6" stroke="#0000ff" stroke-width="2"/>
<path d="M146.8 745 L148.01 744.12 L148.1 744.05 M152.5 740.83 L152.83 740.59 L154.03 739.71 L155.05 738.97 M155.75 738.45 L156.44 737.95 L157.65 737.06 L158.3 736.59 M162.8 733.28 L163.67 732.64 L164.87 731.76 L166.08 730.87 L166.1 730.86 M170.1 727.92 L170.89 727.33 L172.1 726.44 L172.7 726 M173.4 725.48 L174.5 724.67 L175.7 723.78 L176 723.56 M181.1 719.79 L181.71 719.34 L182.92 718.45 L184 717.64 M188.4 714.38 L188.92 713.99 L190.12 713.1 L191.32 712.21 L191.35 712.19 M192.05 711.66 L192.52 711.32 L193.72 710.42 L194.92 709.53 L195 709.47 M199.2 706.33 L199.71 705.95 L200.91 705.05 L202.11 704.16 L202.4 703.94 M206.7 700.72 L206.9 700.57 L208.09 699.67 L209.29 698.77 L209.7 698.46 M210.4 697.93 L210.48 697.87 L211.68 696.97 L212.87 696.07 L213.4 695.68 M216.9 693.03 L217.65 692.47 L218.84 691.56 L220.04 690.66 L220.3 690.46 M225 686.9 L226 686.14 L227.19 685.23 L227.85 684.73 M228.55 684.2 L229.57 683.42 L230.76 682.51 L231.4 682.03 M235.2 679.12 L235.52 678.88 L236.71 677.97 L237.89 677.06 L238.9 676.29 M242.5 673.52 L242.64 673.41 L243.83 672.5 L245.01 671.59 L245.85 670.94 M246.55 670.4 L247.38 669.76 L248.57 668.84 L249.75 667.93 L249.9 667.81 M253.5 665.02 L254.48 664.26 L255.66 663.34 L256.84 662.42 L257.2 662.14 M260.9 659.26 L261.56 658.74 L262.74 657.82 L263.92 656.89 L264.2 656.67 M264.9 656.13 L265.1 655.97 L266.28 655.05 L267.45 654.12 L268.2 653.53 M271.5 650.94 L272.16 650.42 L273.33 649.49 L274.5 648.56 L275.2 648.01 M278.9 645.08 L279.2 644.84 L280.37 643.91 L281.54 642.98 L282.2 642.45 M282.9 641.89 L283.88 641.12 L285.05 640.18 L286.2 639.26 M289.9 636.29 L290.88 635.5 L292.05 634.56 L293.22 633.63 L293.5 633.4 M297 630.57 L297.87 629.86 L299.03 628.92 L300.2 627.98 L300.35 627.85 M301.05 627.29 L301.36 627.04 L302.52 626.09 L303.68 625.15 L304.4 624.56 M307.9 621.7 L308.31 621.36 L309.47 620.41 L310.63 619.46 L311.7 618.58 M315.5 615.45 L316.4 614.71 L317.55 613.75 L318.7 612.8 L318.8 612.72 M319.5 612.14 L319.85 611.84 L321 610.89 L322.15 609.93 L322.8 609.39 M326.1 606.64 L326.75 606.1 L327.89 605.14 L329.04 604.18 L329.8 603.54 M333.4 600.51 L333.62 600.32 L334.76 599.36 L335.9 598.39 L336.75 597.67 M337.45 597.08 L338.18 596.46 L339.32 595.49 L340.46 594.52 L340.8 594.23 M344.1 591.41 L345.01 590.64 L346.14 589.66 L347.28 588.69 L348.1 587.98 M351.4 585.13 L351.8 584.78 L352.93 583.81 L354.06 582.83 L354.9 582.1 M355.6 581.49 L356.32 580.86 L357.45 579.88 L358.58 578.9 L359.1 578.44 M362.4 575.55 L363.07 574.96 L364.2 573.97 L365.32 572.99 L366.1 572.3 M369.6 569.2 L369.8 569.03 L370.91 568.03 L372.03 567.04 L373.15 566.05 L373.2 566 M373.9 565.37 L374.26 565.05 L375.38 564.05 L376.49 563.06 L377.5 562.15 M380.8 559.18 L380.93 559.06 L382.04 558.06 L383.15 557.06 L384.26 556.05 L384.8 555.56 M388.1 552.55 L388.68 552.03 L389.78 551.02 L390.88 550.01 L391.6 549.35 M392.3 548.71 L393.08 547.99 L394.18 546.98 L395.28 545.96 L395.8 545.48 M399.2 542.33 L399.66 541.9 L400.76 540.88 L401.85 539.86 L402.6 539.16 M406 535.97 L406.21 535.78 L407.3 534.75 L408.38 533.73 L409.47 532.7 L409.7 532.48 M410.9 531.35 L411.64 530.65 L412.72 529.62 L413.8 528.59 L414.1 528.3 M417 525.53 L417.04 525.49 L418.12 524.45 L419.2 523.42 L420.27 522.38 L420.7 521.97 M423.9 518.87 L424.57 518.23 L425.64 517.18 L426.71 516.14 L427.3 515.56 M428.8 514.1 L428.85 514.05 L429.91 513.01 L430.98 511.96 L432.04 510.91 L432.4 510.56 M435.4 507.59 L436.29 506.7 L437.35 505.65 L438.41 504.6 L439 504 M442 501 L442.63 500.36 L443.68 499.3 L444.73 498.24 L445.6 497.36 M447.1 495.84 L447.88 495.05 L448.93 493.98 L449.97 492.92 L450.8 492.07 M454 488.79 L454.15 488.63 L455.19 487.56 L456.23 486.49 L457.26 485.41 L457.4 485.27 M460.5 482.04 L461.41 481.1 L462.44 480.01 L463.47 478.93 L463.7 478.69 M465.7 476.58 L466.56 475.68 L467.58 474.59 L468.61 473.5 L469.1 472.97 M472.3 469.56 L472.7 469.13 L473.71 468.04 L474.73 466.94 L475.5 466.11 M478.8 462.54 L479.8 461.44 L480.81 460.34 L481.82 459.23 L482 459.04 M484.5 456.29 L484.84 455.91 L485.85 454.8 L486.85 453.69 L487.8 452.64 M491 449.07 L491.85 448.12 L492.84 447 L493.84 445.88 L494.2 445.47 M497.4 441.84 L497.8 441.38 L498.79 440.26 L499.77 439.13 L500.6 438.18 M503.2 435.19 L503.71 434.61 L504.69 433.47 L505.66 432.33 L506.4 431.48 M509 428.44 L509.56 427.78 L510.54 426.64 L511.51 425.49 L512 424.91 M514 422.54 L514.41 422.05 L515.37 420.9 L516.34 419.75 L517.3 418.6" stroke="#ffa500" stroke-width="2"/>
<path d="M146 737.3 L147.15 736.33 L148.29 735.37 L149.44 734.41 L150.59 733.45 L151.74 732.49 L152.89 731.53 L154.04 730.57 L155.2 729.62 L156.35 728.66 L157.51 727.71 L158.66 726.75 L159.82 725.8 L160.98 724.85 L162.14 723.91 L163.3 722.96 L164.46 722.01 L165.62 721.07 L166.79 720.12 L167.95 719.18 L169.11 718.24 L170.28 717.29 L171.45 716.35 L171.5 716.31" stroke="#ff00ff" stroke-width="2.8"/>
<path d="M176.7 712.14 L177.29 711.67 L178.46 710.73 L179.63 709.8 L180.4 709.18 M185.8 704.9 L186.67 704.21 L187.85 703.28 L189.02 702.35 L190.2 701.42 L191.38 700.5 L192.55 699.57 L193.73 698.64 L194.91 697.72 L196.09 696.79 L197.27 695.87 L198.45 694.94 L199.63 694.02 L200.81 693.1 L201.99 692.17 L203.17 691.25 L203.9 690.68 M209.5 686.31 L210.26 685.72 L211.44 684.8 L212.6 683.9 M218.4 679.39 L218.54 679.28 L219.72 678.36 L220.9 677.44 L222.09 676.52 L223.27 675.6 L224.45 674.68 L225.64 673.76 L226.82 672.84 L228 671.92 L229.19 671 L230.37 670.08 L231.55 669.16 L232.74 668.24 L233.92 667.32 L235.11 666.4 L236.29 665.48 L236.7 665.16 M242.5 660.65 L243.39 659.96 L244.57 659.04 L245.75 658.12 L245.8 658.09 M251.3 653.81 L251.67 653.52 L252.85 652.6 L254.03 651.68 L255.22 650.76 L256.4 649.84 L257.58 648.92 L258.76 648 L259.95 647.07 L261.13 646.15 L262.31 645.23 L263.49 644.31 L264.67 643.39 L265.86 642.47 L267.04 641.55 L268.22 640.62 L269.4 639.7 L269.7 639.47 M275.2 635.17 L275.3 635.09 L276.48 634.17 L277.66 633.24 L278.7 632.43 M284.2 628.12 L284.74 627.7 L285.92 626.77 L287.1 625.85 L288.28 624.92 L289.45 624 L290.63 623.07 L291.81 622.14 L292.99 621.22 L294.16 620.29 L295.34 619.36 L296.52 618.44 L297.69 617.51 L298.87 616.58 L300.05 615.65 L301.22 614.72 L302.4 613.79 L302.5 613.71 M307.5 609.75 L308.27 609.14 L309.44 608.21 L310.61 607.27 L311.2 606.81 M316.9 602.26 L317.64 601.67 L318.81 600.73 L319.98 599.8 L321.15 598.86 L322.31 597.92 L323.48 596.99 L324.65 596.05 L325.82 595.11 L326.98 594.17 L328.15 593.23 L329.32 592.29 L330.48 591.35 L331.65 590.4 L332.81 589.46 L333.98 588.52 L334.4 588.17 M340.2 583.46 L340.95 582.85 L342.11 581.9 L343.27 580.95 L343.9 580.43 M349 576.25 L349.06 576.2 L350.22 575.25 L351.37 574.29 L352.53 573.34 L353.68 572.39 L354.84 571.43 L355.99 570.48 L357.14 569.52 L358.3 568.56 L359.45 567.6 L360.6 566.65 L361.75 565.69 L362.9 564.73 L364.05 563.76 L365.2 562.8 L366.34 561.84 L366.8 561.46 M372 557.08 L372.07 557.02 L373.22 556.05 L374.36 555.08 L375.5 554.11 L375.6 554.03 M381.1 549.35 L381.21 549.25 L382.34 548.28 L383.48 547.31 L384.62 546.33 L385.76 545.35 L386.89 544.38 L388.03 543.4 L389.16 542.42 L390.29 541.44 L391.42 540.46 L392.55 539.47 L393.69 538.49 L394.81 537.51 L395.94 536.52 L397.07 535.53 L398.2 534.55 L398.6 534.19 M403.5 529.88 L403.82 529.59 L404.94 528.6 L406.06 527.61 L407 526.77 M412.3 522.03 L412.76 521.61 L413.87 520.61 L414.99 519.61 L416.1 518.6 L417.21 517.6 L418.32 516.59 L419.42 515.58 L420.53 514.57 L421.64 513.56 L422.74 512.55 L423.84 511.53 L424.94 510.52 L426.05 509.5 L427.14 508.49 L428.24 507.47 L429.34 506.45 L429.5 506.3 M434.3 501.81 L434.81 501.33 L435.9 500.3 L436.99 499.27 L437.9 498.41 M443 493.56 L443.5 493.08 L444.58 492.04 L445.66 491.01 L446.74 489.97 L447.82 488.93 L448.9 487.89 L449.98 486.85 L451.06 485.81 L452.13 484.77 L453.21 483.73 L454.29 482.68 L455.36 481.64 L456.43 480.59 L457.51 479.55 L458.58 478.5 L459.6 477.51 M464.6 472.62 L465.01 472.22 L466.08 471.17 L467.15 470.12 L467.8 469.48 M472.7 464.67 L473.56 463.83 L474.63 462.78 L475.69 461.73 L476.76 460.67 L477.83 459.62 L478.89 458.57 L479.96 457.52 L481.03 456.47 L482.09 455.41 L483.15 454.36 L484.22 453.3 L485.28 452.25 L486.34 451.19 L487.4 450.13 L488.46 449.07 L489 448.52 M493.5 443.98 L493.73 443.75 L494.78 442.68 L495.82 441.61 L496.7 440.71 M501.9 435.33 L502.07 435.15 L503.1 434.07 L504.14 432.98 L505.16 431.89 L506.19 430.8 L507.22 429.7 L508.24 428.61 L509.26 427.51 L510.27 426.4 L511.28 425.3 L512.3 424.19 L513.3 423.08 L514.31 421.96 L515.31 420.85 L516.31 419.72 L517.3 418.6" stroke="#ff00ff" stroke-width="2"/>
<path d="M146.4 728.5 L147.41 727.4 L148.43 726.31 L149.46 725.22 L150.5 724.15 L151.55 723.08 L152.6 722.02 L153.67 720.97 L154.73 719.92 L155.81 718.88 L156.89 717.85 L157.98 716.82 L159.07 715.8 L160.16 714.78 L161.26 713.77 L162.37 712.76 L163.48 711.75 L164.59 710.75 L165.71 709.75 L166.82 708.76 L167.94 707.77 L168.8 707.01" stroke="#009400" stroke-width="2.8"/>
<path d="M170.4 705.6 L171.31 704.8 L172.44 703.82 L173.5 702.89 M181.8 695.75 L182.65 695.03 L183.79 694.06 L184.93 693.1 L186.08 692.13 L187.22 691.17 L188.37 690.21 L189.52 689.25 L190.5 688.43 M199.3 681.17 L199.91 680.68 L201.07 679.73 L202.23 678.79 L202.3 678.73 M211.1 671.64 L211.56 671.27 L212.73 670.34 L213.9 669.41 L215.07 668.48 L216.25 667.55 L217.42 666.62 L218.59 665.69 L219.77 664.76 L219.9 664.66 M228.5 657.92 L229.2 657.37 L230.39 656.45 L231.57 655.53 L231.8 655.35 M240.7 648.48 L241.05 648.2 L242.24 647.29 L243.43 646.38 L244.62 645.47 L245.81 644.55 L247 643.64 L248.19 642.73 L249.3 641.88 M258.5 634.87 L258.91 634.55 L260.11 633.64 L261.3 632.74 L261.8 632.36 M270.6 625.67 L270.85 625.48 L272.04 624.58 L273.24 623.67 L274.43 622.76 L275.63 621.86 L276.82 620.95 L278.01 620.04 L279.21 619.14 L279.6 618.84 M288.4 612.15 L288.75 611.88 L289.95 610.97 L291.14 610.06 L291.7 609.63 M300.7 602.76 L301.86 601.87 L303.06 600.96 L304.25 600.05 L305.44 599.14 L306.63 598.23 L307.82 597.32 L309.01 596.41 L310 595.64 M318.4 589.18 L318.51 589.1 L319.7 588.18 L320.89 587.27 L321.9 586.49 M330.7 579.68 L331.56 579.01 L332.74 578.09 L333.92 577.17 L335.11 576.25 L336.29 575.33 L337.47 574.41 L338.65 573.49 L339.84 572.57 L341.02 571.65 L342.2 570.73 L343.38 569.8 L344.56 568.88 L345.74 567.96 L346.3 567.52 M354.9 560.75 L355.16 560.55 L356.34 559.62 L357.51 558.69 L358.2 558.15 M367 551.16 L368.07 550.3 L369.24 549.37 L370.41 548.43 L371.58 547.5 L372.75 546.56 L373.92 545.63 L375.09 544.69 L376 543.95 M384.3 537.25 L384.41 537.16 L385.58 536.22 L386.74 535.28 L387.9 534.33 L387.9 534.33 M396.3 527.47 L397.17 526.75 L398.33 525.8 L399.49 524.84 L400.64 523.89 L401.8 522.94 L402.95 521.98 L404.1 521.03 L405.2 520.12 M413.6 513.11 L414.45 512.4 L415.6 511.44 L416.74 510.47 L417 510.25 M425.5 503.05 L425.88 502.73 L427.02 501.76 L428.16 500.79 L429.29 499.81 L430.43 498.84 L431.57 497.86 L432.7 496.89 L433.84 495.91 L434.2 495.6 M442.4 488.48 L442.88 488.06 L444.01 487.07 L445.13 486.09 L445.6 485.68 M454 478.25 L454.11 478.16 L455.23 477.16 L456.34 476.17 L457.46 475.17 L458.58 474.17 L459.69 473.17 L460.8 472.17 L461.92 471.17 L462.8 470.37 M470.7 463.19 L470.78 463.11 L471.89 462.1 L472.99 461.09 L474 460.15 M481.7 453.01 L481.78 452.94 L482.87 451.92 L483.96 450.89 L485.06 449.86 L486.15 448.84 L487.24 447.81 L488.32 446.78 L489.41 445.75 L490.3 444.91 M498 437.53 L498.07 437.46 L499.15 436.42 L500.23 435.37 L501.2 434.43 M508.9 426.88 L509.87 425.92 L510.93 424.87 L512 423.81 L513.06 422.75 L514.12 421.69 L515.18 420.63 L516.24 419.56 L517.3 418.5" stroke="#009400" stroke-width="2"/>
<path d="M149.9 651.19 L150.18 649.67 L150.49 648.15 L150.83 646.65 L151.19 645.16 L151.59 643.69 L152.01 642.23 L152.46 640.79 L152.93 639.36 L153.43 637.95 L153.96 636.55 L154.51 635.16 L155.09 633.79 L155.69 632.44 L156.31 631.09 L156.96 629.76 L157.62 628.44 L158.32 627.14 L159.03 625.85 L159.76 624.57 L160.51 623.3 L161.28 622.05 L162.08 620.8 L162.89 619.57 L163.72 618.35 L164.56 617.15 L165.43 615.95 L166.31 614.77 L167.2 613.6 L167.5 613.22" stroke="#993300" stroke-width="2.6"/>
<path d="M167.3 613.47 L168.12 612.44 L169.04 611.29 L169.99 610.15 L170.95 609.02 L171.92 607.9 L172.9 606.79 L173.9 605.69 L174.91 604.6 L175.94 603.52 L176.97 602.45 L178.02 601.39 L179.08 600.34 L180.15 599.3 L181.24 598.26 L182.33 597.24 L183.43 596.22 L184.54 595.21 L185.66 594.21 L186.79 593.22 L187.93 592.23 L189.08 591.26 L190.23 590.29 L191.39 589.32 L192.56 588.37 L193.73 587.42 L194.91 586.47 L196.1 585.54 L197.29 584.61 L198.48 583.68 L199.68 582.76 L200.89 581.85 L202.1 580.94 L203.31 580.04 L204.52 579.14 L205.74 578.25 L206.96 577.37 L208.19 576.48 L209.42 575.61 L210.65 574.74 L211.88 573.87 L213.12 573 L214.36 572.15 L215.6 571.29 L216.84 570.44 L218.09 569.6 L219.34 568.76 L220.59 567.92 L221.84 567.08 L223.1 566.25 L224.36 565.43 L225.62 564.61 L226.88 563.79 L228.14 562.97 L229.41 562.16 L230.68 561.35 L231.95 560.54 L233.22 559.74 L234.49 558.94 L235.76 558.14 L237.04 557.35 L238.31 556.56 L239.59 555.77 L240.87 554.98 L242.15 554.19 L243.43 553.41 L244.71 552.63 L245.99 551.85 L247.27 551.08 L248.56 550.3 L249.84 549.53 L251.12 548.76 L252.41 547.99 L253.69 547.22 L254.98 546.46 L256.26 545.69 L257.55 544.93 L258.84 544.17 L260.13 543.41 L261.42 542.65 L262.7 541.9 L264 541.15 L265.29 540.4 L266.58 539.65 L267.87 538.9 L269.16 538.16 L270.46 537.41 L271.75 536.67 L273.05 535.93 L274.35 535.2 L275.65 534.46 L276.95 533.73 L278.25 533 L279.55 532.27 L280.85 531.54 L282.15 530.82 L283.46 530.1 L284.77 529.38 L286.07 528.66 L287.38 527.94 L288.69 527.23 L290 526.52 L291.31 525.81 L292.63 525.1 L293.94 524.4 L295.26 523.7 L296.58 523 L297.9 522.3 L299.22 521.61 L300.54 520.91 L301.86 520.22 L303.19 519.54 L304.52 518.85 L305.84 518.17 L307.17 517.49 L308.5 516.81 L309.84 516.13 L311.17 515.45 L312.51 514.78 L313.84 514.11 L315.18 513.44 L316.52 512.78 L317.86 512.11 L319.2 511.45 L320.54 510.79 L321.88 510.13 L323.23 509.47 L324.57 508.81 L325.92 508.16 L327.27 507.51 L328.62 506.85 L329.97 506.2 L331.32 505.56 L332.67 504.91 L334.02 504.26 L335.37 503.62 L336.73 502.98 L338.08 502.33 L339.44 501.69 L340.79 501.06 L342.15 500.42 L343.51 499.78 L344.87 499.15 L346.23 498.51 L347.59 497.88 L348.95 497.24 L350.31 496.61 L351.67 495.98 L353.03 495.35 L354.39 494.72 L355.76 494.09 L357.12 493.47 L358.48 492.84 L359.85 492.21 L361.21 491.59 L362.58 490.96 L363.94 490.34 L365.31 489.71 L366.67 489.09 L368.04 488.46 L369.41 487.84 L370.77 487.22 L372.14 486.6 L373.51 485.97 L374.87 485.35 L376.24 484.73 L377.61 484.11 L378.97 483.49 L380.34 482.86 L381.71 482.24 L383.08 481.62 L384.44 481 L385.81 480.38 L387.18 479.75 L388.54 479.13 L389.91 478.51 L391.28 477.89 L392.64 477.26 L394.01 476.64 L395.37 476.02 L396.74 475.39 L398.1 474.77 L399.47 474.14 L400.83 473.52 L402.2 472.89 L403.56 472.26 L404.92 471.63 L406.29 471 L407.65 470.37 L409.01 469.74 L410.37 469.11 L411.73 468.48 L413.09 467.85 L414.45 467.21 L415.81 466.58 L417.17 465.94 L418.52 465.31 L419.88 464.67 L421.24 464.03 L422.59 463.39 L423.95 462.75 L425.3 462.11 L426.65 461.46 L428.01 460.82 L429.36 460.18 L430.71 459.53 L432.06 458.89 L433.41 458.24 L434.76 457.59 L436.11 456.94 L437.46 456.3 L438.81 455.65 L440.16 455 L441.51 454.35 L442.86 453.7 L444.21 453.05 L445.56 452.4 L446.9 451.75 L448.25 451.1 L449.6 450.44 L450.95 449.79 L452.29 449.14 L453.64 448.49 L454.99 447.84 L456.34 447.19 L457.68 446.53 L459.03 445.88 L460.38 445.23 L461.73 444.58 L463.07 443.93 L464.42 443.27 L465.77 442.62 L467.12 441.97 L468.46 441.32 L469.81 440.67 L471.16 440.02 L472.51 439.37 L473.86 438.72 L475.21 438.07 L476.56 437.43 L477.91 436.78 L479.26 436.13 L480.61 435.48 L481.96 434.84 L483.31 434.19 L484.66 433.55 L486.01 432.91 L487.37 432.26 L488.72 431.62 L490.07 430.98 L491.43 430.34 L492.78 429.7 L494.14 429.06 L495.49 428.43 L496.85 427.79 L498.21 427.15 L499.57 426.52 L500.93 425.89 L502.29 425.26 L503.65 424.63 L505.01 424 L506.37 423.37 L507.73 422.74 L509.1 422.12 L510.46 421.49 L511.83 420.87 L513.19 420.25 L514.56 419.63 L515.93 419.02 L517.3 418.4" stroke="#993300" stroke-width="2"/>
</g>
<path d="M82 37.2 H517.3 V799.2 H82 Z M82 418.2 H517.3" stroke="#000" stroke-width="2" fill="none" stroke-linejoin="miter"/>
<text class="tl" text-anchor="end" x="70.8" y="44.6">1.5</text>
<text class="tl" text-anchor="end" x="70.8" y="191.14">1.0</text>
<text class="tl" text-anchor="end" x="70.8" y="337.68">0.5</text>
<text class="tl" text-anchor="end" x="70.8" y="425.6">1.0</text>
<text class="tl" text-anchor="end" x="70.8" y="711.35">0.7</text>
<text class="tl" text-anchor="middle" x="169.06" y="825.6">0.8</text>
<text class="tl" text-anchor="middle" x="343.18" y="825.6">0.9</text>
<text class="tl" text-anchor="middle" x="517.3" y="825.6">1.0</text>
<text x="367.9" y="319.6" class="lo">ω</text>
<path d="M385.9 312.3h9.9v1.6h-9.9z M385.9 316.1h9.9v1.6h-9.9z" fill="#000"/>
<text x="400.9" y="319.6" class="lb">0.5</text>
<path d="M435.9 313.7 h50.4" stroke="#ff0000" stroke-width="2"/>
<text x="367.9" y="338.54" class="lo">ω</text>
<path d="M385.9 331.24h9.9v1.6h-9.9z M385.9 335.04h9.9v1.6h-9.9z" fill="#000"/>
<text x="400.9" y="338.54" class="lb">1.0</text>
<path d="M435.9 332.64 h50.4" stroke="#0000ff" stroke-width="2" stroke-dasharray="8 10.8"/>
<text x="367.9" y="357.48" class="lo">ω</text>
<path d="M385.9 350.18h9.9v1.6h-9.9z M385.9 353.98h9.9v1.6h-9.9z" fill="#000"/>
<text x="400.9" y="357.48" class="lb">1.3</text>
<path d="M435.9 351.58 h50.4" stroke="#ffa500" stroke-width="2" stroke-dasharray="4 5.4"/>
<text x="367.9" y="376.42" class="lo">ω</text>
<path d="M385.9 369.12h9.9v1.6h-9.9z M385.9 372.92h9.9v1.6h-9.9z" fill="#000"/>
<text x="400.9" y="376.42" class="lb">1.4</text>
<path d="M435.9 370.52 h50.4" stroke="#ff00ff" stroke-width="2" stroke-dasharray="22.9 7.3 3.9 7.4"/>
<text x="367.9" y="395.36" class="lo">ω</text>
<path d="M385.9 388.06h9.9v1.6h-9.9z M385.9 391.86h9.9v1.6h-9.9z" fill="#000"/>
<text x="400.9" y="395.36" class="lb">1.5</text>
<path d="M435.9 389.46 h50.4" stroke="#009400" stroke-width="2" stroke-dasharray="11.6 11.1 3.9 11.3"/>
<text x="367.9" y="414.3" class="lo">ω</text>
<path d="M385.9 407h9.9v1.6h-9.9z M385.9 410.8h9.9v1.6h-9.9z" fill="#000"/>
<text x="400.9" y="414.3" class="lb">2.0</text>
<path d="M435.9 408.4 h50.4" stroke="#993300" stroke-width="2"/>
<text x="352.9" y="690.9" class="lo">ω</text>
<path d="M370.9 683.6h9.9v1.6h-9.9z M370.9 687.4h9.9v1.6h-9.9z" fill="#000"/>
<text x="385.9" y="690.9" class="lb">0.5</text>
<path d="M420.9 685 h50.4" stroke="#ff0000" stroke-width="2"/>
<text x="352.9" y="709.84" class="lo">ω</text>
<path d="M370.9 702.54h9.9v1.6h-9.9z M370.9 706.34h9.9v1.6h-9.9z" fill="#000"/>
<text x="385.9" y="709.84" class="lb">1.0</text>
<path d="M420.9 703.94 h50.4" stroke="#0000ff" stroke-width="2" stroke-dasharray="8 10.8"/>
<text x="352.9" y="728.78" class="lo">ω</text>
<path d="M370.9 721.48h9.9v1.6h-9.9z M370.9 725.28h9.9v1.6h-9.9z" fill="#000"/>
<text x="385.9" y="728.78" class="lb">1.3</text>
<path d="M420.9 722.88 h50.4" stroke="#ffa500" stroke-width="2" stroke-dasharray="4 5.4"/>
<text x="352.9" y="747.72" class="lo">ω</text>
<path d="M370.9 740.42h9.9v1.6h-9.9z M370.9 744.22h9.9v1.6h-9.9z" fill="#000"/>
<text x="385.9" y="747.72" class="lb">1.4</text>
<path d="M420.9 741.82 h50.4" stroke="#ff00ff" stroke-width="2" stroke-dasharray="22.9 7.3 3.9 7.4"/>
<text x="352.9" y="766.66" class="lo">ω</text>
<path d="M370.9 759.36h9.9v1.6h-9.9z M370.9 763.16h9.9v1.6h-9.9z" fill="#000"/>
<text x="385.9" y="766.66" class="lb">1.5</text>
<path d="M420.9 760.76 h50.4" stroke="#009400" stroke-width="2" stroke-dasharray="11.6 11.1 3.9 11.3"/>
<text x="352.9" y="785.6" class="lo">ω</text>
<path d="M370.9 778.3h9.9v1.6h-9.9z M370.9 782.1h9.9v1.6h-9.9z" fill="#000"/>
<text x="385.9" y="785.6" class="lb">2.0</text>
<path d="M420.9 779.7 h50.4" stroke="#993300" stroke-width="2"/>
<g transform="translate(34.30 257.70) rotate(-90)"><g transform="skewX(-13)"><text style="font-size:32.5px;stroke:#000;stroke-width:0.5px">ρ</text></g></g>
<path d="M13.9 230.3 L33.8 240.0" stroke="#000" stroke-width="1.7" fill="none"/>
<g transform="translate(34.30 232.60) rotate(-90)"><g transform="skewX(-13)"><text style="font-size:32.5px;stroke:#000;stroke-width:0.5px">ρ</text></g></g>
<g transform="translate(43.20 215.60) rotate(-90)"><text style="font-weight:bold;font-size:25.0px">s</text></g>
<g transform="translate(43.20 205.90) rotate(-90)"><text style="font-weight:bold;font-size:25.0px">f</text></g>
<g transform="translate(33.60 637.00) rotate(-90)"><text style="font-family:'Liberation Sans',sans-serif;font-style:italic;font-size:30.0px">p</text></g>
<g transform="translate(33.90 619.60) rotate(-90)"><text style="font-family:'Liberation Sans',sans-serif;font-style:italic;font-size:30.0px">/</text></g>
<g transform="translate(33.60 611.60) rotate(-90)"><text style="font-family:'Liberation Sans',sans-serif;font-style:italic;font-size:30.0px">p</text></g>
<g transform="translate(43.20 596.60) rotate(-90)"><text style="font-weight:bold;font-size:25.0px">s</text></g>
<g transform="translate(43.20 587.30) rotate(-90)"><text style="font-weight:bold;font-size:25.0px">f</text></g>
<path fill="#000" d="M295.9 826.9 C296.3 823.5 297.8 821.1 299.6 821.1 C301.6 821.1 302.8 822.4 303.1 824.2 C303.4 826.5 303.6 830 303.8 833 L304.2 839.5 C304.3 841.3 304.8 842.3 305.6 842.3 C306.8 842.3 307.9 841 308.9 838.8 L309.3 839.1 C308.6 842.2 307 844.9 304.9 844.9 C303 844.9 302.3 843 302.2 840 L302 833.9 L294.9 843.6 L291.9 843.6 L301.2 829.6 C301.1 827 300.9 825.3 300.2 824.2 C299.7 823.3 298.9 823.2 298.3 823.7 C297.4 824.5 296.9 825.8 296.6 827.1 Z"/>
</svg></body></html>
